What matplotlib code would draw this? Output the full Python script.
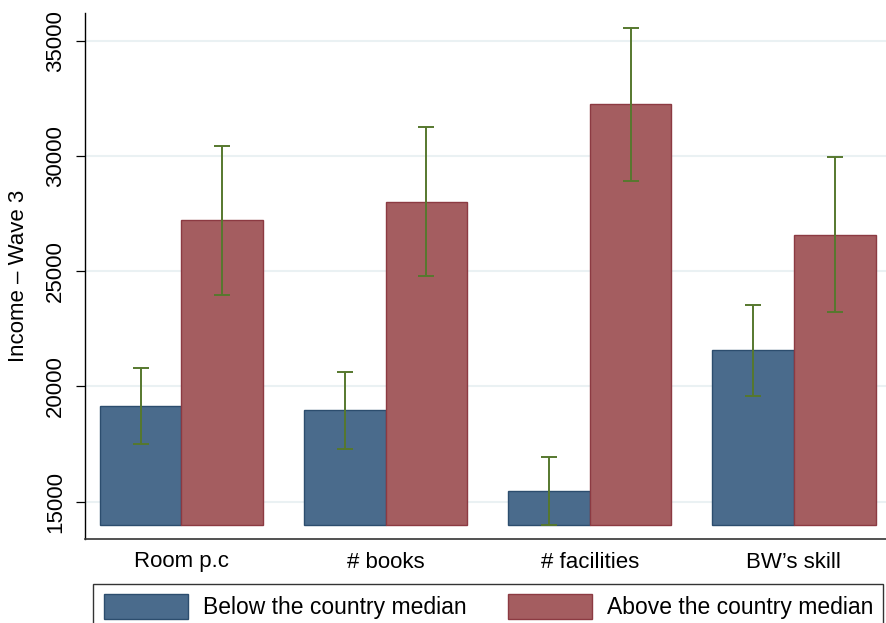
import matplotlib
matplotlib.use('Agg')
import matplotlib.pyplot as plt
import numpy as np

plt.rcParams['font.family'] = ['Liberation Sans', 'DejaVu Sans']

# data
categories = ['Room p.c', '# books', '# facilities', 'BW\u2019s skill']
below = [19150, 18960, 15450, 21580]
below_lo = [17490, 17280, 13980, 19600]
below_hi = [20810, 20630, 16925, 23545]
above = [27210, 28020, 32240, 26590]
above_lo = [23975, 24790, 28930, 23230]
above_hi = [30435, 31235, 35550, 29965]
base = 14000
yticks = [15000, 20000, 25000, 30000, 35000]

blue, blue_edge = '#4a6b8c', '#2c4d6e'
red, red_edge = '#a45d60', '#8c3a42'
green = '#56782e'
grid_c = '#eaf1f3'

fig = plt.figure(figsize=(8.87, 6.23), dpi=100)
fig.patch.set_facecolor('white')
ax = fig.add_axes([85 / 887, 84 / 623, 802 / 887, 526 / 623])

x = np.arange(len(categories))
w = 0.4
ax.bar(x - w / 2, np.array(below) - base, w, bottom=base, color=blue,
       edgecolor=blue_edge, linewidth=1, zorder=2, label='Below the country median')
ax.bar(x + w / 2, np.array(above) - base, w, bottom=base, color=red,
       edgecolor=red_edge, linewidth=1, zorder=2, label='Above the country median')

for xs, lo, hi in [(x - w / 2, below_lo, below_hi), (x + w / 2, above_lo, above_hi)]:
    mid = (np.array(lo) + np.array(hi)) / 2
    err = (np.array(hi) - np.array(lo)) / 2
    ax.errorbar(xs, mid, yerr=err, fmt='none', ecolor=green, elinewidth=1.4,
                capsize=5.5, capthick=1.4, zorder=3)

ax.set_xlim(-0.472, 3.456)
ax.set_ylim(13382, 36202)
ax.set_yticks(yticks)
ax.set_yticklabels([str(v) for v in yticks], rotation=90, va='center', fontsize=16)
ax.yaxis.grid(True, color=grid_c, linewidth=1.5, zorder=0)
ax.set_axisbelow(True)
ax.tick_params(axis='y', length=6.5, width=0.9, pad=7, direction='out')
ax.set_xticks(x)
ax.set_xticklabels(categories, fontsize=16)
ax.tick_params(axis='x', length=0, pad=9)
ax.set_ylabel('Income \u2013 Wave 3', fontsize=16, labelpad=12)

for s in ['top', 'right']:
    ax.spines[s].set_visible(False)
ax.spines['left'].set_linewidth(1.0)
ax.spines['bottom'].set_linewidth(1.2)
ax.spines['bottom'].set_color('#333333')

leg = ax.legend(loc='upper left', bbox_to_anchor=(93.3 / 887, 1 - 584 / 623, 790 / 887, 0),
                bbox_transform=fig.transFigure, mode='expand', ncol=2, fontsize=16.5,
                frameon=True, fancybox=False, borderpad=0.45, handlelength=3.7,
                handleheight=1.25, handletextpad=0.62, columnspacing=1.55,
                borderaxespad=0)
leg.get_frame().set_edgecolor('black')
leg.get_frame().set_linewidth(1.0)

fig.savefig('out.png', dpi=100, facecolor='white')
